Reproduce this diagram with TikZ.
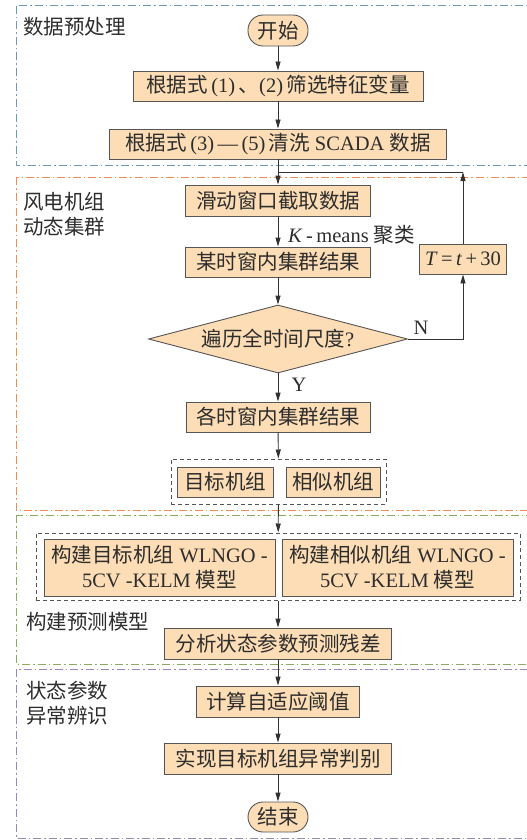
\documentclass[tikz,border=0pt]{standalone}
\usepackage{fontspec}
\setmainfont{Liberation Serif}
\newfontfamily\cjk{Noto Sans CJK SC}
\usetikzlibrary{shapes.geometric,arrows.meta}
\newcommand{\zh}[1]{{\cjk #1}}
\definecolor{boxfill}{RGB}{252,221,181}
\definecolor{boxline}{RGB}{85,85,85}
\definecolor{arrowc}{RGB}{50,50,50}
\definecolor{txt}{RGB}{45,45,45}
\definecolor{fblue}{RGB}{110,155,180}
\definecolor{forange}{RGB}{240,140,80}
\definecolor{fgreen}{RGB}{140,170,100}
\definecolor{fpurple}{RGB}{150,135,190}
\begin{document}
\begin{tikzpicture}[x=1pt,y=-1pt,
  font=\fontsize{20.5}{25}\selectfont,
  box/.style={draw=boxline, fill=boxfill, line width=0.9pt, inner sep=0pt, minimum height=30pt, text=txt, align=center},
  term/.style={box, rounded corners=15pt, minimum width=60pt},
  dec/.style={box, shape=diamond, aspect=3.8, minimum width=259pt, minimum height=68pt},
  arr/.style={draw=arrowc, line width=0.9pt, -{Triangle[length=9pt,width=5pt]}},
  ln/.style={draw=arrowc, line width=0.9pt},
  grp/.style={draw=boxline, dashed, dash pattern=on 4pt off 3pt, line width=1pt, inner sep=0pt},
  frame/.style={line width=1pt, dash pattern=on 8pt off 3pt on 1.5pt off 3pt},
  lab/.style={anchor=west, text=txt, inner sep=0pt, align=left}
]
\useasboundingbox (0,0) rectangle (527,840);
\clip (0,0) rectangle (527,840);
% stage frames
\draw[frame, fblue] (16,6) rectangle (560,165);
\draw[frame, forange] (16,177) rectangle (560,510);
\draw[frame, fgreen] (16,515) rectangle (560,664);
\draw[frame, fpurple] (16,669) rectangle (560,838);
% stage labels
\node[lab] (l1) at (23,27) {\zh{数据预处理}};
\node[lab] (l2) at (23,214) {\zh{风电机组}\\\zh{动态集群}};
\node[lab] (l3) at (26,622) {\zh{构建预测模型}};
\node[lab] (l4) at (26,703) {\zh{状态参数}\\\zh{异常辨识}};
% nodes
\node[term, minimum height=31pt] (start) at (278,30.5) {\zh{开始}};
\node[box, minimum width=290pt] (b1) at (278,86) {\zh{根据式}\,(1)\,\zh{、}(2)\,\zh{筛选特征变量}};
\node[box, minimum width=337pt] (b2) at (278,144) {\zh{根据式}\,(3)\,—\,(5)\,\zh{清洗} SCADA \zh{数据}};
\node[box, minimum width=185pt, minimum height=31pt] (b3) at (278,200.5) {\zh{滑动窗口截取数据}};
\node[box, minimum width=185pt] (b4) at (278,262) {\zh{某时窗内集群结果}};
\node[box, minimum width=87pt] (T) at (463,259) {\textit{T}\,=\,\textit{t}\,+\,30};
\node[dec] (d) at (278,339) {\zh{遍历全时间尺度}?};
\node[box, minimum width=184pt] (b5) at (278,417) {\zh{各时窗内集群结果}};
\node[grp, minimum width=215pt, minimum height=45pt] (gA) at (278.5,481.5) {};
\node[box, minimum width=96pt] (g1) at (225,482) {\zh{目标机组}};
\node[box, minimum width=94pt] (g2) at (333,482) {\zh{相似机组}};
\node[grp, minimum width=484pt, minimum height=67pt] (gB) at (278,566.5) {};
\node[box, minimum width=231pt, minimum height=57pt] (m1) at (159.5,567.5) {\zh{构建目标机组} WLNGO -\\5CV -KELM \zh{模型}};
\node[box, minimum width=231pt, minimum height=57pt] (m2) at (397.5,567.5) {\zh{构建相似机组} WLNGO -\\5CV -KELM \zh{模型}};
\node[box, minimum width=227pt, minimum height=31pt] (b6) at (278,643.5) {\zh{分析状态参数预测残差}};
\node[box, minimum width=163pt, minimum height=31pt] (b7) at (278,701.5) {\zh{计算自适应阈值}};
\node[box, minimum width=227pt, minimum height=31pt] (b8) at (278,758.5) {\zh{实现目标机组异常判别}};
\node[term] (end) at (278,817) {\zh{结束}};
% edge labels
\node[lab] (km) at (288,235) {\textit{K}\,-\,means \zh{聚类}};
\node[text=txt] (N) at (421,328) {N};
\node[text=txt] (Y) at (299,385) {Y};
% connectors
\draw[arr] (start) -- (b1);
\draw[arr] (b1) -- (b2);
\draw[arr] (b2) -- (b3);
\draw[arr] (b3) -- (b4);
\draw[arr] (b4) -- (d.north);
\draw[arr] (d.south) -- (b5);
\draw[arr] (b5) -- (gA);
\draw[arr] (gA) -- (gB);
\draw[arr] (gB.south -| b6) -- (b6);
\draw[arr] (b6) -- (b7);
\draw[arr] (b7) -- (b8);
\draw[arr] (b8) -- (end);
\draw[arr] (d.east) -| (T.south);
\coordinate (lc) at (463,172);
\coordinate (lj) at (278,172);
\draw[arr] (T.north) -- (lc);
\draw[ln] (lc) -- (lj);
\end{tikzpicture}
\end{document}
